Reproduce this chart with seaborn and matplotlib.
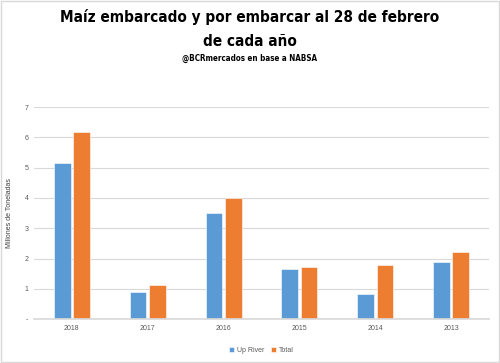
import pandas as pd
import matplotlib.pyplot as plt
import seaborn as sns
from matplotlib.patches import Rectangle

# ── Data ──────────────────────────────────────────────────────────────
years = ["2018", "2017", "2016", "2015", "2014", "2013"]
up_river = [5.16, 0.90, 3.49, 1.65, 0.82, 1.90]
total = [6.19, 1.11, 3.99, 1.72, 1.79, 2.20]
series = ["Up River", "Total"]
colors = ["#5B9BD5", "#ED7D31"]
y_ticks = [0, 1, 2, 3, 4, 5, 6, 7]
y_ticklabels = ["-", "1", "2", "3", "4", "5", "6", "7"]

df = pd.DataFrame({
    "year": years * 2,
    "value": up_river + total,
    "serie": [series[0]] * len(years) + [series[1]] * len(years),
})

# ── Plot ──────────────────────────────────────────────────────────────
sns.set_theme(style="white")
plt.rcParams["font.family"] = ["Liberation Sans", "DejaVu Sans"]

fig = plt.figure(figsize=(5, 3.63), dpi=100)
ax = fig.add_axes([0.068, 0.121, 0.91, 0.584])

sns.barplot(data=df, x="year", y="value", hue="serie", order=years,
            hue_order=series, palette=colors, saturation=1, width=0.51, gap=0.14,
            edgecolor="white", linewidth=0.4, ax=ax)

ax.set_ylim(0, 7)
ax.set_xlim(-0.5, 5.5)
ax.set_yticks(y_ticks)
ax.set_yticklabels(y_ticklabels)
ax.yaxis.grid(True, color="#D9D9D9", linewidth=0.8)
ax.set_axisbelow(True)
for s in ["left", "right", "top"]:
    ax.spines[s].set_visible(False)
ax.spines["bottom"].set_color("#D9D9D9")
ax.tick_params(axis="both", length=0, labelsize=5, labelcolor="#595959", pad=4)
ax.set_xlabel("")
ax.set_ylabel("Millones de Toneladas", fontsize=5, color="#404040", labelpad=8)

ax.legend(loc="upper center", bbox_to_anchor=(0.5, -0.1), ncol=2,
          frameon=False, fontsize=5, handlelength=0.7, handleheight=0.7,
          columnspacing=1.0, handletextpad=0.4, labelcolor="#595959")

# titles
title_font = dict(family="DejaVu Sans", fontstretch="condensed",
                  fontweight="heavy", color="black")
fig.text(0.5, 0.952, "Maíz embarcado y por embarcar al 28 de febrero",
         ha="center", va="center", fontsize=11, **title_font)
fig.text(0.5, 0.887, "de cada año", ha="center", va="center", fontsize=11,
         **title_font)
fig.text(0.5, 0.84, "@BCRmercados en base a NABSA", ha="center", va="center",
         fontsize=5.8, **title_font)

# light frame around the figure
fig.patches.append(Rectangle((0.002, 0.003), 0.995, 0.994, transform=fig.transFigure,
                             fill=False, edgecolor="#D9D9D9", linewidth=1))

fig.savefig("out.png", dpi=100)
